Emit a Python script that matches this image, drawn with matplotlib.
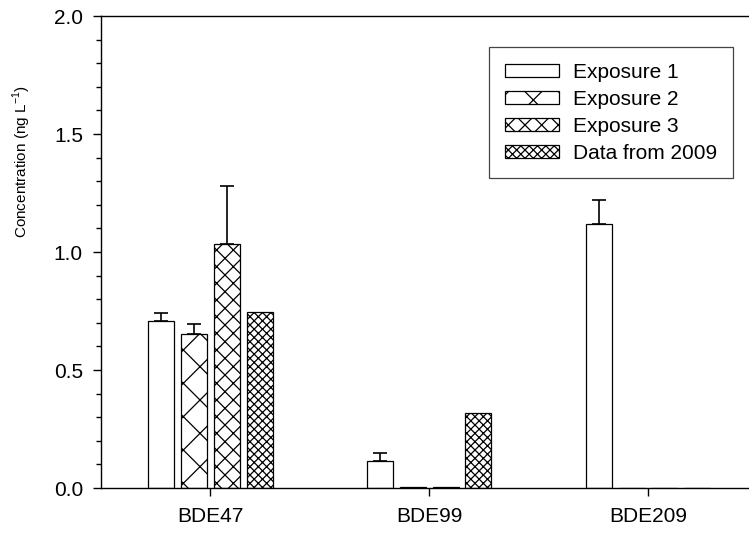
import numpy as np
import matplotlib
matplotlib.use("Agg")
import matplotlib.pyplot as plt
from matplotlib.ticker import MultipleLocator

plt.rcParams['font.family'] = ['Liberation Sans', 'DejaVu Sans']
plt.rcParams['mathtext.fontset'] = 'custom'
plt.rcParams['mathtext.rm'] = 'Liberation Sans'
plt.rcParams['hatch.linewidth'] = 0.9

# Data
compounds = ['BDE47', 'BDE99', 'BDE209']
series = ['Exposure 1', 'Exposure 2', 'Exposure 3', 'Data from 2009']
exposure1 = [0.709, 0.116, 1.12]
exposure2 = [0.651, 0.003, 0.0]
exposure3 = [1.035, 0.005, 0.0]
data2009 = [0.747, 0.319, 0.0]
err1 = [0.031, 0.031, 0.10]
err2 = [0.043, 0.0, 0.0]
err3 = [0.245, 0.0, 0.0]

values = [exposure1, exposure2, exposure3, data2009]
errors = [err1, err2, err3, None]
hatches = ['', 'x', 'xx', 'xxxx']

fig = plt.figure(figsize=(7.49, 5.34), dpi=100)
ax = fig.add_axes([0.1348, 0.0861, 0.8765, 0.8839])

x = np.arange(len(compounds))
width = 0.119
step = 0.15
for i, (vals, err, h, lab) in enumerate(zip(values, errors, hatches, series)):
    pos = x + (i - 1.5) * step
    ax.bar(pos, vals, width, color='white', edgecolor='black', linewidth=0.9,
           hatch=h, label=lab, zorder=2)
    if err is not None:
        yerr = np.array([np.zeros(len(err)), err])
        mask = np.array(err) > 0
        ax.errorbar(pos[mask], np.array(vals)[mask], yerr=yerr[:, mask], fmt='none',
                    ecolor='black', elinewidth=1.2, capsize=4.7, capthick=1.2, zorder=3)

ax.set_xlim(-0.5, 2.5)
ax.set_ylim(0, 2.0)
ax.set_xticks(x)
ax.set_xticklabels(compounds)
ax.yaxis.set_major_locator(MultipleLocator(0.5))
ax.yaxis.set_minor_locator(MultipleLocator(0.1))
ax.yaxis.set_major_formatter(matplotlib.ticker.FormatStrFormatter('%.1f'))
ax.tick_params(axis='both', which='major', direction='out', length=6, width=1,
               labelsize=15)
ax.tick_params(axis='y', which='major', pad=7)
ax.tick_params(axis='y', which='minor', direction='out', length=3.5, width=1)
ax.tick_params(axis='x', pad=8)
for s in ax.spines.values():
    s.set_linewidth(1)
ax.set_ylabel(r'Concentration (ng L$^{\mathregular{-1}}$)', fontsize=11)
ax.yaxis.set_label_coords(-0.103, 0.692)

leg = ax.legend(loc='upper right', bbox_to_anchor=(0.9627, 0.934), fontsize=15,
                frameon=True, fancybox=False, edgecolor='#444444', framealpha=1,
                handlelength=2.6, handleheight=0.58, labelspacing=0.38,
                borderpad=0.75, handletextpad=0.67, borderaxespad=0)
leg.get_frame().set_linewidth(0.9)

fig.savefig('out.png', dpi=100)
